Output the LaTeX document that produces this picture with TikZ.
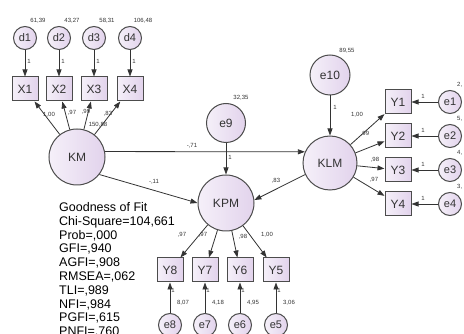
\documentclass[tikz,border=0pt]{standalone}
\usepackage{fontspec}
\setmainfont{Liberation Sans}
\usetikzlibrary{arrows.meta}
\definecolor{lavA}{HTML}{F5F0F9}
\definecolor{lavB}{HTML}{E2D3EC}
\definecolor{rim}{HTML}{4C4C4C}
\definecolor{ink}{HTML}{333333}
\begin{document}
\begin{tikzpicture}[x=1pt,y=-1pt,
  shapebase/.style={draw=rim, line width=1pt, left color=lavA, right color=lavB, text=ink, inner sep=0pt},
  latent/.style={shapebase, circle, minimum size=56pt, font=\fontsize{12}{12}\selectfont},
  errbig/.style={shapebase, circle, minimum size=39pt, font=\fontsize{12}{12}\selectfont},
  errsm/.style={shapebase, circle, minimum size=23pt, font=\fontsize{11}{11}\selectfont},
  obsbox/.style={shapebase, rectangle, minimum width=26pt, minimum height=24pt, font=\fontsize{12}{12}\selectfont},
  arr/.style={draw=ink, line width=0.8pt, -{Triangle[length=7pt,width=5pt]}},
  num/.style={font=\fontsize{6}{6}\selectfont, text=ink, inner sep=0pt},
  fit/.style={font=\fontsize{12.5}{13}\selectfont, text=black, inner sep=0pt, anchor=base west}
]
\useasboundingbox (0,0) rectangle (464,334);
\clip (0,0) rectangle (464,334);

% top indicators
\foreach \n/\x/\v in {1/25/{61,39},2/59/{43,27},3/94/{58,31},4/130/{106,48}}{
  \node[errsm] (d\n) at (\x,38) {d\n};
  \node[obsbox] (X\n) at (\x,89) {X\n};
  \node[num] (vd\n) at (\x+13,21) {\v};
  \draw[arr] (d\n) -- (X\n) node[num, pos=0.45, right=2pt] (ld\n) {1};
}

% latent variables
\node[latent] (KM) at (77,157) {KM};
\node[latent] (KPM) at (226,203) {KPM};
\node[latent, minimum size=54pt] (KLM) at (330,163) {KLM};
\node[errbig] (e9) at (226,123) {e9};
\node[errbig, minimum size=40pt] (e10) at (330,75) {e10};
\node[num] (ve9) at (241,98) {32,35};
\node[num] (ve10) at (347,51) {89,55};

% KM loadings
\draw[arr] (KM) -- (X1);
\draw[arr] (KM) -- (X2);
\draw[arr] (KM) -- (X3);
\draw[arr] (KM) -- (X4);
\node[num] (lx1) at (49,115) {1,00};
\node[num] (lx2) at (72,113) {,97};
\node[num] (lx3) at (86,112) {,99};
\node[num] (lx4) at (108,114) {,83};
\node[num] (lx5) at (98,125) {150,88};

% structural paths
\draw[arr] (KM.11) -- (KLM.156);
\node[num] (p1) at (192,146) {-,71};
\draw[arr] (KM.-38) -- (KPM.180);
\node[num] (p2) at (154,182) {-,11};
\draw[arr] (KLM.205) -- (KPM.6);
\node[num] (p3) at (276,181) {,83};
\draw[arr] (e9) -- (KPM);
\node[num] (p4) at (230,157) {1};
\draw[arr] (e10) -- (KLM);
\node[num] (p5) at (335,107) {1};

% KLM indicators
\foreach \n/\y/\v in {1/102/{2,},2/136/{5,},3/170/{4,},4/204/{3,}}{
  \node[obsbox] (Y\n) at (398,\y) {Y\n};
  \node[errsm] (e\n) at (450,\y) {e\n};
  \draw[arr] (e\n) -- (Y\n);
  \node[num] (le\n) at (423,\y-6) {1};
  \node[num, anchor=west] (ve\n) at (457,\y-17) {\v};
  \draw[arr] (KLM) -- (Y\n);
}
\node[num] (ly1) at (357,115) {1,00};
\node[num] (ly2) at (365,134) {,99};
\node[num] (ly3) at (375,160) {,98};
\node[num] (ly4) at (374,180) {,97};

% KPM indicators
\foreach \n/\x/\v in {8/170/{8,07},7/205/{4,18},6/240/{4,95},5/276/{3,06}}{
  \node[obsbox] (Y\n) at (\x,270) {Y\n};
  \node[errsm] (e\n) at (\x,325) {e\n};
  \draw[arr] (e\n) -- (Y\n);
  \node[num] (le\n) at (\x+3,290) {1};
  \node[num] (ve\n) at (\x+13,303) {\v};
  \draw[arr] (KPM) -- (Y\n);
}
\node[num] (ly8) at (182,235) {,97};
\node[num] (ly7) at (203,235) {,97};
\node[num] (ly6) at (243,237) {,98};
\node[num] (ly5) at (267,235) {1,00};

% goodness of fit
\foreach \t [count=\i] in {Goodness of Fit,{Chi-Square=104,661},{Prob=,000},{GFI=,940},{AGFI=,908},{RMSEA=,062},{TLI=,989},{NFI=,984},{PGFI=,615},{PNFI=,760}}{
  \node[fit] (gof\i) at (59,211.5+13.8*\i-13.8) {\t};
}
\end{tikzpicture}
\end{document}
